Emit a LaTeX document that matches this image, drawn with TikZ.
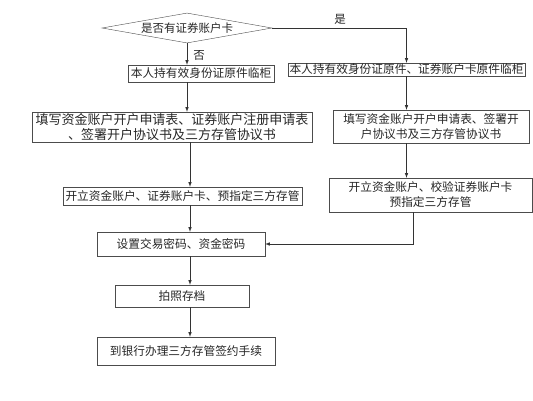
\documentclass[tikz,border=0pt]{standalone}
\usepackage{fontspec}
\newfontfamily\cjk{Noto Sans CJK SC}
\usetikzlibrary{shapes.geometric, arrows, positioning, calc}

\begin{document}
\begin{tikzpicture}[x=1pt, y=-1pt,
  box/.style={draw=black!70, rectangle, inner sep=0pt, align=center, text=black!85,
    font=\cjk\fontsize{11.7}{15}\selectfont},
  arr/.style={-latex, black!80, line width=0.6pt}]
\useasboundingbox (0,0) rectangle (533,400);
% decision
\node[diamond, draw=black!70, aspect=5.6, inner sep=0pt, minimum width=170pt, minimum height=30pt,
  font=\cjk\fontsize{11.5}{13}\selectfont, text=black!85] (ask) at (187,28) {是否有证券账户卡};

% left column: no card yet
\node[box, minimum width=146pt, minimum height=17pt] (l1) at (201,73.5) {本人持有效身份证原件临柜};
\node[box, minimum width=280pt, minimum height=30pt, font=\cjk\fontsize{13}{14.5}\selectfont] (l2) at (172,127)
  {填写资金账户开户申请表、证券账户注册申请表\\、签署开户协议书及三方存管协议书};
\node[box, minimum width=239pt, minimum height=18pt] (l3) at (182.5,196) {开立资金账户、证券账户卡、预指定三方存管};
\node[box, minimum width=168pt, minimum height=24pt] (l4) at (181,244) {设置交易密码、资金密码};
\node[box, minimum width=134pt, minimum height=22pt] (l5) at (182,296) {拍照存档};
\node[box, minimum width=178pt, minimum height=28pt] (l6) at (186,351) {到银行办理三方存管签约手续};

% right column: card exists
\node[box, minimum width=237pt, minimum height=13pt] (r1) at (406.5,69.5) {本人持有效身份证原件、证券账户卡原件临柜};
\node[box, minimum width=196pt, minimum height=33pt] (r2) at (431,126.5)
  {填写资金账户开户申请表、签署开\\户协议书及三方存管协议书};
\node[box, minimum width=203pt, minimum height=34pt] (r3) at (430.5,195)
  {开立资金账户、校验证券账户卡\\预指定三方存管};

\coordinate (colA) at (187,0);
\coordinate (colB) at (190,0);
\coordinate (colC) at (413,0);

\draw[arr] (ask.south) -- (ask.south |- l1.north);
\node[font=\cjk\fontsize{11.5}{13}\selectfont, text=black!85] (no) at (199,55) {否};
\draw[arr] (l1.south -| colA) -- (l2.north -| colA);
\draw[arr] (l2.south -| colB) -- (l3.north -| colB);
\draw[arr] (l3.south -| colB) -- (l4.north -| colB);
\draw[arr] (l4.south -| colB) -- (l5.north -| colB);
\draw[arr] (l5.south -| colB) -- (l6.north -| colB);

\draw[arr] (ask.east) -| (r1.north);
\node[font=\cjk\fontsize{11.5}{13}\selectfont, text=black!85] (yes) at (340,19) {是};
\draw[arr] (r1.south) -- (r1.south |- r2.north);
\draw[arr] (r2.south -| r1.south) -- (r3.north -| r1.south);
\draw[arr] (r3.south -| colC) |- (l4.east);
\end{tikzpicture}
\end{document}
